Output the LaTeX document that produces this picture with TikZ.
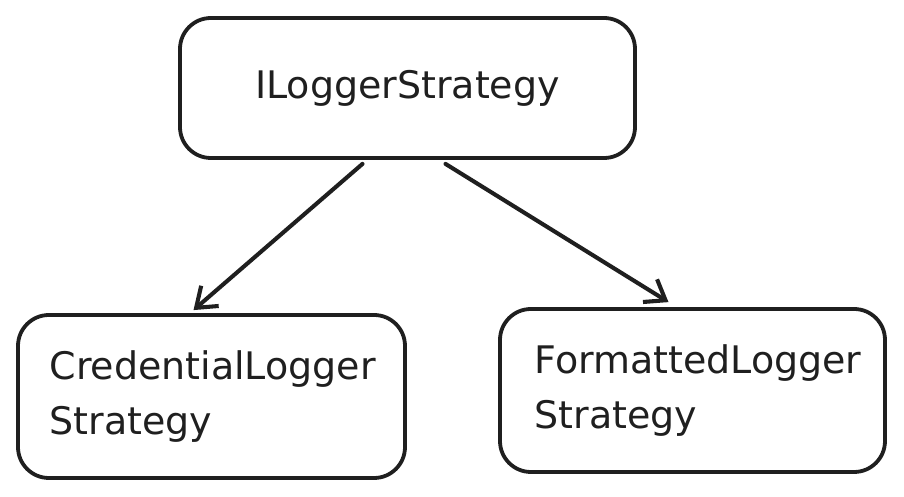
\documentclass[tikz,border=0pt]{standalone}
\usepackage{fontspec}
\setmainfont{DejaVu Sans}
\usetikzlibrary{arrows.meta, calc}

\begin{document}
\begin{tikzpicture}[x=0.025cm, y=-0.025cm, >={Straight Barb[length=13pt, width=19pt]}]
    % Styles
    \tikzstyle{classbox} = [rectangle, draw, line width=2.7pt, rounded corners=22pt, font=\fontsize{27}{39}\selectfont, color=black!88]
    \tikzstyle{line} = [draw, line width=2.9pt, ->, color=black!88, line cap=round]

    % Canvas
    \useasboundingbox (0,0) rectangle (904,497);

    % Nodes
    \node [classbox, minimum width=455*0.025cm, minimum height=140*0.025cm] (iface) at (407.5,88) {ILoggerStrategy};
    \node [classbox, minimum width=387*0.025cm, minimum height=163*0.025cm, text width=324*0.025cm, align=left] (cred) at (211.5,396.5) {CredentialLogger\\Strategy};
    \node [classbox, minimum width=385*0.025cm, minimum height=163*0.025cm, text width=316*0.025cm, align=left] (fmt) at (692.5,390.5) {FormattedLogger\\Strategy};

    % Paths
    \path [line] ($(iface.south)+(-45,4)$) -- ($(cred.north)+(-18,-3)$);
    \path [line] ($(iface.south)+(38,4)$) -- ($(fmt.north)+(-24,-5)$);

\end{tikzpicture}
\end{document}
